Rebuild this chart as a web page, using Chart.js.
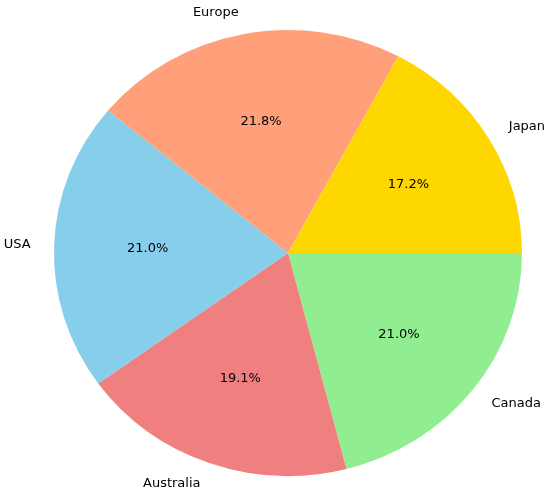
<!DOCTYPE html>
<html>
<head>
<meta charset="utf-8">
<script src="https://cdn.jsdelivr.net/npm/chart.js@4/dist/chart.umd.min.js"></script>
<style>
  html, body { margin: 0; padding: 0; background: #fff; }
  canvas { display: block; }
</style>
</head>
<body>
<canvas id="pie" width="550" height="494"></canvas>
<script>
"use strict";

// slices, clockwise from 3 o'clock
const regions = ["Canada", "Australia", "USA", "Europe", "Japan"];
const shares = [21.0, 19.1, 21.0, 21.8, 17.2];
const sliceColors = ["#90EE90", "#F08080", "#87CEEB", "#FFA07A", "#FFD700"];

// the reference pie is a bit wider than tall
const stretchX = 234 / 223;
const font = '13px "DejaVu Sans"';

const ellipse = {
  id: "ellipse",
  beforeDatasetsDraw(chart) {
    const arc = chart.getDatasetMeta(0).data[0];
    const ctx = chart.ctx;
    ctx.save();
    ctx.translate(arc.x, arc.y);
    ctx.scale(stretchX, 1);
    ctx.translate(-arc.x, -arc.y);
  },
  afterDatasetsDraw(chart) {
    chart.ctx.restore();
  },
};

const sliceText = {
  id: "sliceText",
  afterDraw(chart) {
    const ctx = chart.ctx;
    const meta = chart.getDatasetMeta(0);
    ctx.save();
    ctx.font = font;
    ctx.fillStyle = "#000";
    ctx.textBaseline = "middle";
    meta.data.forEach((arc, i) => {
      const mid = (arc.startAngle + arc.endAngle) / 2;
      const r = arc.outerRadius;
      const cos = Math.cos(mid);
      const sin = Math.sin(mid);

      // label outside
      const lx = arc.x + cos * r * 1.1 * stretchX;
      const ly = arc.y + sin * r * 1.1;
      ctx.textAlign = cos > 0 ? "left" : "right";
      ctx.fillText(regions[i], lx, ly);

      // percentage inside
      const px = arc.x + cos * r * 0.6 * stretchX;
      const py = arc.y + sin * r * 0.6;
      ctx.textAlign = "center";
      ctx.fillText(shares[i].toFixed(1) + "%", px, py);
    });
    ctx.restore();
  },
};

new Chart(document.getElementById("pie").getContext("2d"), {
  type: "pie",
  data: {
    labels: regions,
    datasets: [
      {
        data: shares,
        backgroundColor: sliceColors,
        borderWidth: 0,
      },
    ],
  },
  options: {
    responsive: false,
    animation: false,
    rotation: 90,
    layout: {
      padding: { left: 65, right: 39, top: 30, bottom: 18 },
    },
    plugins: {
      legend: { display: false },
      tooltip: { enabled: false },
    },
  },
  plugins: [ellipse, sliceText],
});
</script>
</body>
</html>
